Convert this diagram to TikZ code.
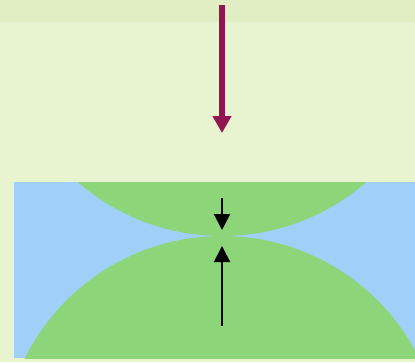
\documentclass[tikz,border=0pt]{standalone}
\usetikzlibrary{arrows.meta}
\definecolor{bgcol}{HTML}{E8F3D0}
\definecolor{topcol}{HTML}{E1EEC3}
\definecolor{maroon}{HTML}{921550}
\definecolor{waterblue}{HTML}{A0D0F8}
\definecolor{leafgreen}{HTML}{8CD679}
\tikzset{
  bigarrow/.style={draw=maroon, line width=6pt, -{Triangle[width=18pt 0,length=17pt 0,fill=maroon]}},
  smallarrow/.style={draw=black, line width=2pt, -{Triangle[width=16pt 0,length=16pt 0]}},
  blob/.style={fill=leafgreen, draw=none}
}
\begin{document}
\begin{tikzpicture}[x=1pt,y=-1pt]
\useasboundingbox (0,0) rectangle (415,362);
\fill[bgcol] (0,0) rectangle (415,362);
\fill[topcol] (0,0) rectangle (415,22);
\coordinate (bigstart) at (222,5);
\coordinate (bigend) at (222,133);
\draw[bigarrow] (bigstart) -- (bigend);
\begin{scope}
  \clip (14,182) rectangle (415,358);
  \fill[waterblue] (14,182) rectangle (415,358);
  \fill[blob] (222,16) circle (220);
  \fill[blob] (222,456) circle (220);
\end{scope}
\coordinate (d1) at (222,198);
\coordinate (d2) at (222,230);
\coordinate (u1) at (222,326);
\coordinate (u2) at (222,246);
\draw[smallarrow] (d1) -- (d2);
\draw[smallarrow] (u1) -- (u2);
\end{tikzpicture}
\end{document}
